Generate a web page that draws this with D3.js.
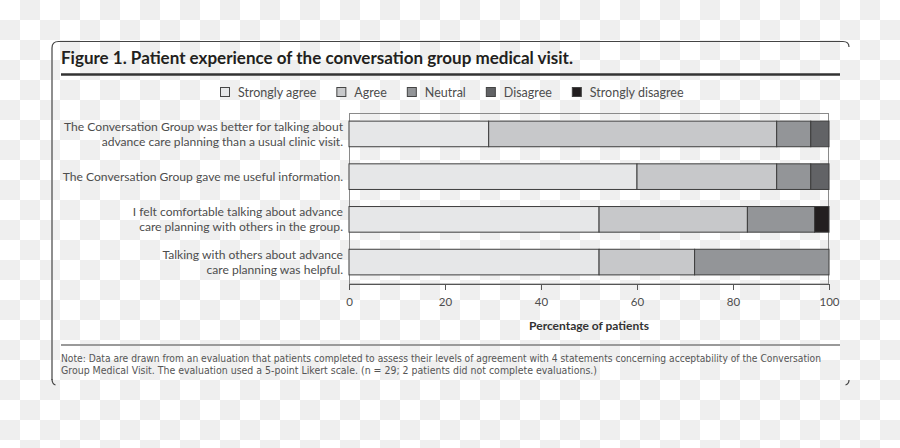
<!DOCTYPE html>
<html>
<head>
<meta charset="utf-8">
<script src="https://cdn.jsdelivr.net/npm/d3@7"></script>
<style>
html, body { margin: 0; }
html {
  background-color: #fff;
  background-image: conic-gradient(#efefef 0 25%, #fff 0 50%, #efefef 0 75%, #fff 0);
  background-size: 40px 40px;
}
svg { display: block; font-family: Lato, "Open Sans", sans-serif; }
</style>
</head>
<body>
<div id="chart"></div>
<script>
// statements, one entry per bar (already broken into lines)
var statements = [
  ["The Conversation Group was better for talking about", "advance care planning than a usual clinic visit."],
  ["The Conversation Group gave me useful information."],
  ["I felt comfortable talking about advance", "care planning with others in the group."],
  ["Talking with others about advance", "care planning was helpful."]
];
var categories = ["Strongly agree", "Agree", "Neutral", "Disagree", "Strongly disagree"];

// percentage of patients per answer
var stronglyAgree    = [29.1, 60.0, 52.1, 52.1];
var agree            = [60.0, 29.1, 30.9, 19.9];
var neutral          = [7.1, 7.1, 14.0, 28.0];
var disagree         = [3.8, 3.8, 0, 0];
var stronglyDisagree = [0, 0, 3.0, 0];

var xTicks = [0, 20, 40, 60, 80, 100];

var titleText = "Figure 1. Patient experience of the conversation group medical visit.";
var axisTitle = "Percentage of patients";
var noteLines = [
  "Note: Data are drawn from an evaluation that patients completed to assess their levels of agreement with 4 statements concerning acceptability of the Conversation",
  "Group Medical Visit. The evaluation used a 5-point Likert scale. (n = 29; 2 patients did not complete evaluations.)"
];

var colors = ["#e6e7e8", "#c7c8ca", "#939598", "#626366", "#231f20"];
var textCol = '#4d4d4d';

var width = 900, height = 448;

var svg = d3.select('#chart').append('svg')
    .attr('width', width)
    .attr('height', height);

// card outline (open at the bottom like the source)
svg.append('path')
    .attr('d', 'M52,380 V48 Q52,41.5 58.5,41.5 H843 Q849,41.5 849,47')
    .style('fill', 'none').style('stroke', '#444').style('stroke-width', 1.2);
svg.append('path')
    .attr('d', 'M52,379 Q52,384 55.5,385 M849,380 Q849,384 845.5,385')
    .style('fill', 'none').style('stroke', '#444').style('stroke-width', 1.2);

// title + rule
svg.append('text')
    .attr('x', 61).attr('y', 64)
    .attr('textLength', 512).attr('lengthAdjust', 'spacingAndGlyphs')
    .style('font-size', '16.5px').style('font-weight', 'bold').style('fill', '#231f20')
    .text(titleText);
svg.append('line')
    .attr('x1', 61).attr('x2', 840).attr('y1', 74.5).attr('y2', 74.5)
    .style('stroke', '#333').style('stroke-width', 2.5);

// data table for the stack
var rows = statements.map(function(s, i) {
  return {
    id: i,
    "Strongly agree": stronglyAgree[i],
    "Agree": agree[i],
    "Neutral": neutral[i],
    "Disagree": disagree[i],
    "Strongly disagree": stronglyDisagree[i]
  };
});
var series = d3.stack().keys(categories)(rows);

var x = d3.scaleLinear().domain([0, 100]).range([349, 829]);
var y = d3.scaleBand().domain(rows.map(d => d.id)).range([113, 283])
    .paddingInner(0.4).paddingOuter(0.19);
var color = d3.scaleOrdinal().domain(categories).range(colors);

// legend
var legend = svg.append('g').attr('class', 'legend');
var lx = 220;
categories.forEach(function(c) {
  legend.append('rect')
      .attr('x', lx + 0.5).attr('y', 87.5).attr('width', 9).attr('height', 9)
      .style('fill', color(c)).style('stroke', '#444').style('stroke-width', 1);
  var t = legend.append('text')
      .attr('x', lx + 18).attr('y', 96.5)
      .style('font-size', '12.5px').style('fill', textCol)
      .text(c);
  lx = lx + 18 + t.node().getComputedTextLength() + 20;
});

// plot frame
svg.append('rect')
    .attr('x', 349.5).attr('y', 113.5).attr('width', 479).attr('height', 170.5)
    .style('fill', 'none').style('stroke', '#8a8a8a').style('stroke-width', 1);

// stacked bars
svg.selectAll('g.series')
    .data(series)
    .enter().append('g')
    .attr('class', 'series')
    .style('fill', d => color(d.key))
  .selectAll('rect')
    .data(d => d.filter(p => p[1] - p[0] > 0))
    .enter().append('rect')
    .attr('x', d => x(d[0]))
    .attr('y', d => y(d.data.id))
    .attr('width', d => x(d[1]) - x(d[0]))
    .attr('height', y.bandwidth())
    .style('stroke', '#3d3d3d')
    .style('stroke-width', 1);

// statement labels
var labels = svg.selectAll('text.stmt')
    .data(statements)
    .enter().append('text')
    .attr('class', 'stmt')
    .attr('text-anchor', 'end')
    .style('font-size', '12.1px').style('fill', textCol);
labels.each(function(lines, i) {
  var cy = y(i) + y.bandwidth() / 2;
  d3.select(this).selectAll('tspan')
      .data(lines)
      .enter().append('tspan')
      .attr('x', 343)
      .attr('y', (d, j) => cy + (j - (lines.length - 1) / 2) * 15)
      .attr('dy', '0.35em')
      .text(d => d);
});

// x axis
var xAxis = svg.append('g')
    .attr('transform', 'translate(0,284)')
    .call(d3.axisBottom(x).tickValues(xTicks).tickSize(6).tickSizeOuter(6).tickPadding(8));
xAxis.select('.domain').style('stroke', '#555');
xAxis.selectAll('.tick line').style('stroke', '#555');
xAxis.selectAll('.tick text')
    .style('font-size', '11.5px').style('fill', textCol)
    .style('font-family', 'Lato, "Open Sans", sans-serif');

svg.append('text')
    .attr('x', (x.range()[0] + x.range()[1]) / 2).attr('y', 330)
    .attr('text-anchor', 'middle')
    .style('font-size', '12px').style('font-weight', 'bold').style('fill', '#333')
    .text(axisTitle);

// note
svg.append('line')
    .attr('x1', 61).attr('x2', 840).attr('y1', 345).attr('y2', 345)
    .style('stroke', '#9a9a9a').style('stroke-width', 2);
var noteWidths = [760, 536];
noteLines.forEach(function(line, i) {
  svg.append('text')
      .attr('x', 61).attr('y', 361.5 + i * 12)
      .attr('textLength', noteWidths[i]).attr('lengthAdjust', 'spacingAndGlyphs')
      .style('font-family', '"DejaVu Sans Condensed", "Liberation Sans Narrow", "Roboto Condensed", sans-serif')
      .style('font-size', '10px').style('fill', '#555')
      .text(line);
});
</script>
</body>
</html>
